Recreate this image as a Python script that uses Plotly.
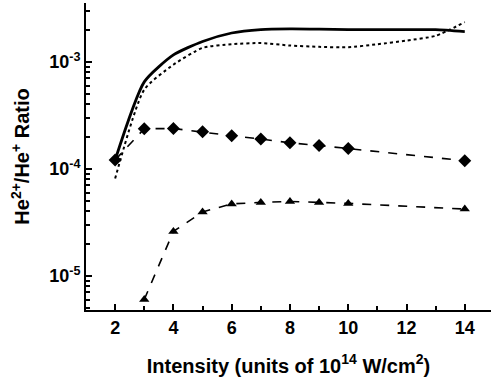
import plotly.graph_objects as go

intensity = [2, 3, 4, 5, 6, 7, 8, 9, 10, 11, 12, 13, 14]
solid_ratio = [1.21e-4, 6.5e-4, 1.16e-3, 1.55e-3, 1.86e-3, 2.0e-3, 2.03e-3, 2.02e-3, 2.0e-3, 2.0e-3, 2.0e-3, 2.0e-3, 1.92e-3]
dotted_ratio = [8.1e-5, 5.5e-4, 9.4e-4, 1.35e-3, 1.46e-3, 1.5e-3, 1.42e-3, 1.38e-3, 1.37e-3, 1.46e-3, 1.58e-3, 1.75e-3, 2.35e-3]

diamond_x = [2, 3, 4, 5, 6, 7, 8, 9, 10, 14]
diamond_ratio = [1.21e-4, 2.37e-4, 2.38e-4, 2.22e-4, 2.04e-4, 1.9e-4, 1.75e-4, 1.65e-4, 1.55e-4, 1.19e-4]

triangle_x = [3, 4, 5, 6, 7, 8, 9, 10, 14]
triangle_ratio = [6.0e-6, 2.6e-5, 3.95e-5, 4.7e-5, 4.85e-5, 4.95e-5, 4.85e-5, 4.75e-5, 4.2e-5]

x_ticks = [2, 4, 6, 8, 10, 12, 14]
x_tick_text = ["<b>%d</b>" % v for v in x_ticks]
y_ticks = [1e-5, 1e-4, 1e-3]
y_tick_text = ["<b>10<sup>-5</sup></b>", "<b>10<sup>-4</sup></b>", "<b>10<sup>-3</sup></b>"]

fig = go.Figure()
fig.add_trace(go.Scatter(x=intensity, y=solid_ratio, mode="lines", line=dict(color="black", width=2.8, shape="spline", smoothing=0.6)))
fig.add_trace(go.Scatter(x=intensity, y=dotted_ratio, mode="lines", line=dict(color="black", width=2, dash="dot", shape="spline", smoothing=0.6)))
fig.add_trace(go.Scatter(x=diamond_x, y=diamond_ratio, mode="lines+markers", line=dict(color="black", width=1.6, dash="dash"), marker=dict(symbol="diamond", size=10, color="black")))
fig.add_trace(go.Scatter(x=triangle_x, y=triangle_ratio, mode="lines+markers", line=dict(color="black", width=1.6, dash="dash"), marker=dict(symbol="triangle-up", size=9, color="black")))

fam = "Liberation Sans, Arial, sans-serif"

fig.update_layout(
    width=493, height=388,
    margin=dict(l=86, r=2, t=3, b=78),
    paper_bgcolor="white", plot_bgcolor="white",
    showlegend=False,
    font=dict(family=fam, color="black"),
    xaxis=dict(
        range=[1.0, 14.9], tickvals=x_ticks, ticktext=x_tick_text, ticks="inside", ticklen=6, tickwidth=2, tickcolor="black",
        showline=True, linecolor="black", linewidth=2, showgrid=False, zeroline=False, automargin=False,
        tickfont=dict(size=18, family=fam, color="black"),
        minor=dict(tickvals=[3, 5, 7, 9, 11, 13], ticks="inside", ticklen=4, tickwidth=2, tickcolor="black", showgrid=False),
        title=dict(text="<b>Intensity (units of 10<sup>14</sup> W/cm<sup>2</sup>)</b>", font=dict(size=20, family=fam, color="black"), standoff=22),
    ),
    yaxis=dict(
        type="log", range=[-5.32, -2.45], tickvals=y_ticks, ticktext=y_tick_text,
        ticks="inside", ticklen=6, tickwidth=2, tickcolor="black",
        showline=True, linecolor="black", linewidth=2, showgrid=False, zeroline=False, automargin=False,
        tickfont=dict(size=18, family=fam, color="black"),
        minor=dict(tickvals=[m * 10 ** e for e in (-6, -5, -4, -3) for m in range(2, 10)], ticks="inside", ticklen=4, tickwidth=2, tickcolor="black", showgrid=False),
        title=dict(text="<b>He<sup>2+</sup>/He<sup>+</sup> Ratio</b>", font=dict(size=20, family=fam, color="black"), standoff=14),
    ),
)

fig.write_html("out.html", config={"displayModeBar": False}, post_script="document.body.style.margin='0';document.body.style.padding='0';")
